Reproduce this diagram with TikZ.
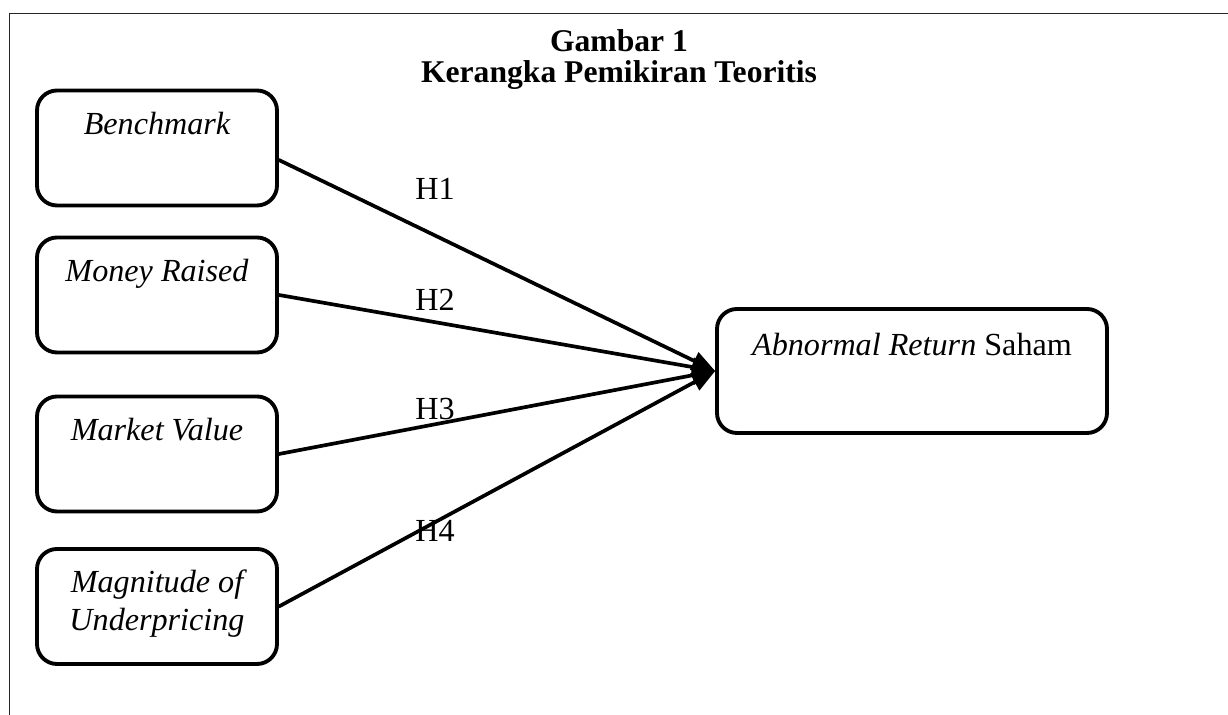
\documentclass[tikz,border=0pt]{standalone}
\usepackage{fontspec}
\setmainfont{Liberation Serif}
\usepackage{tikz}
\usetikzlibrary{arrows,calc,positioning}

\tikzset{
  varbox/.style={draw, line width=2.2pt, rounded corners=0.4cm, minimum width=4.8cm, minimum height=2.3cm, inner sep=0pt},
  retbox/.style={varbox, minimum width=7.8cm, minimum height=2.48cm},
  vartext/.style={anchor=base, align=center, inner sep=0pt, font=\fontsize{18.3}{21.5}\selectfont\itshape},
  hyplabel/.style={anchor=base west, inner sep=0pt, font=\fontsize{18.3}{21}\selectfont},
  figtitle/.style={anchor=base, inner sep=0pt, font=\fontsize{18}{21}\selectfont\bfseries},
  hyparrow/.style={->, line width=2.1pt},
  frameline/.style={line width=0.95pt, black!85}
}

\begin{document}
\begin{tikzpicture}[line cap=round,line join=round,>=triangle 45,x=1.0cm,y=1.0cm]
\useasboundingbox (0,0) rectangle (24.56,14.30);
% frame
\draw[frameline] (0.19,0) -- (0.19,14.03) -- (24.56,14.03);
% title
\node[figtitle] (fig) at (12.38,13.27) {Gambar 1};
\node[figtitle] (figcap) at (12.38,12.64) {Kerangka Pemikiran Teoritis};
% independent variables
\node[varbox] (bench) at (3.14,11.34) {};
\node[varbox] (money) at (3.14,8.4) {};
\node[varbox] (market) at (3.14,5.22) {};
\node[varbox] (magn) at (3.14,2.17) {};
\node[vartext] (benchtxt) at ([yshift=-0.92cm]bench.north) {Benchmark};
\node[vartext] (moneytxt) at ([yshift=-0.92cm]money.north) {Money Raised};
\node[vartext] (markettxt) at ([yshift=-0.92cm]market.north) {Market Value};
\node[vartext] (magntxt) at ([yshift=-1.66cm]magn.north) {Magnitude of\\Underpricing};
% dependent variable
\node[retbox] (ar) at (18.24,6.88) {};
\node[vartext] (artxt) at ([yshift=-0.96cm]ar.north) {Abnormal Return \upshape Saham};
% hypotheses
\draw[hyparrow] ([yshift=-0.24cm]bench.east) -- (ar.west);
\draw[hyparrow] (money.east) -- (ar.west);
\draw[hyparrow] (market.east) -- (ar.west);
\draw[hyparrow] (magn.east) -- (ar.west);
\node[hyplabel] (h1) at (8.3,10.3) {H1};
\node[hyplabel] (h2) at (8.3,8.08) {H2};
\node[hyplabel] (h3) at (8.3,5.9) {H3};
\node[hyplabel] (h4) at (8.3,3.46) {H4};
\end{tikzpicture}
\end{document}
